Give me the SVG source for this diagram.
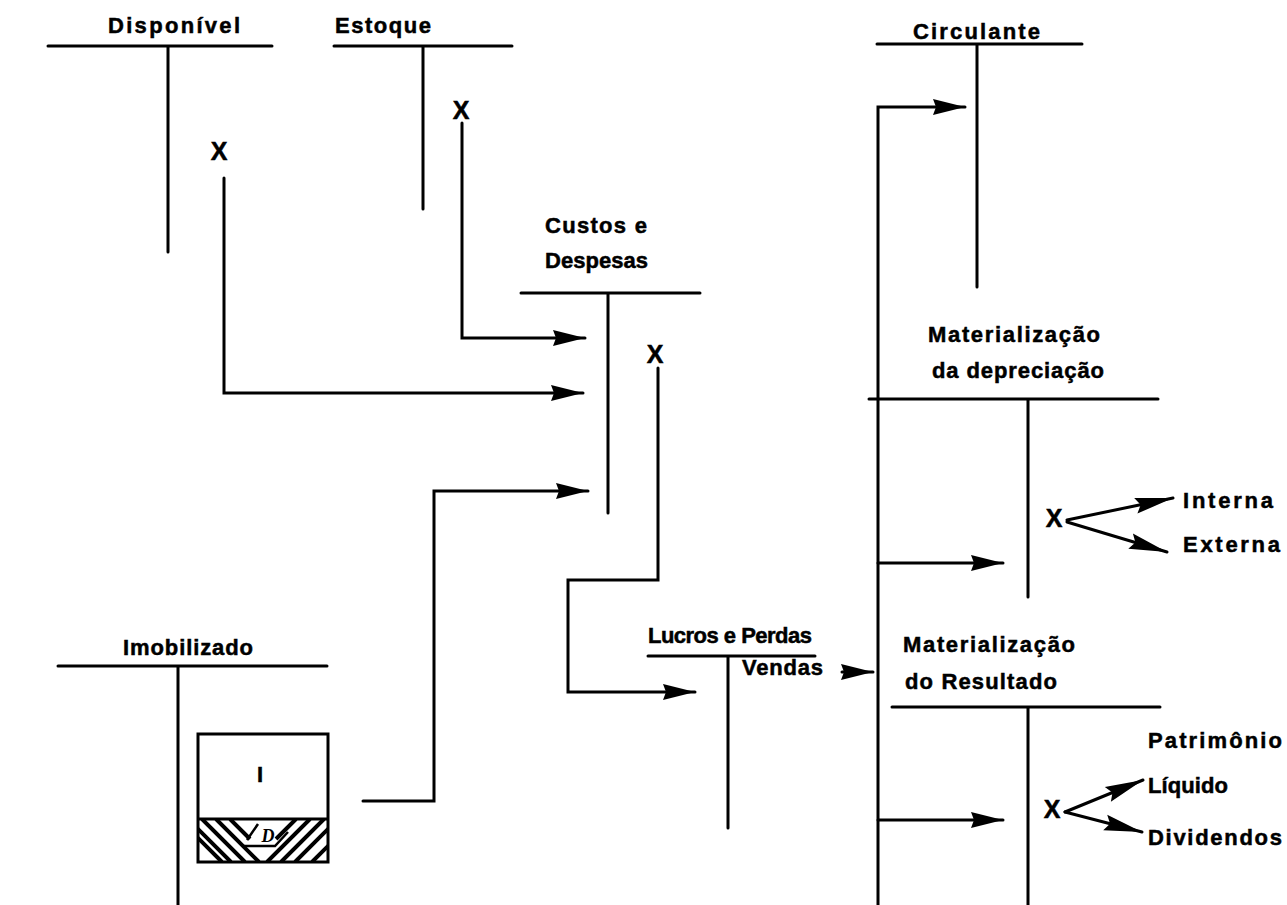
<svg xmlns="http://www.w3.org/2000/svg" width="1287" height="905" viewBox="0 0 1287 905">
  <defs>
    <style>
      .ln { stroke: #000; stroke-width: 3; fill: none; stroke-linecap: round; stroke-linejoin: miter; }
      .lbl { font-family: "Liberation Sans", Arial, sans-serif; font-weight: bold; font-size: 22px; fill: #000; stroke: #000; stroke-width: 0.5; }
      .x { font-family: "Liberation Sans", Arial, sans-serif; font-weight: bold; font-size: 25px; fill: #000; stroke: #000; stroke-width: 0.5; text-anchor: middle; }
      .hatch { stroke: #000; stroke-width: 4; }
    </style>
    <marker id="ah" viewBox="-34 -9 36 18" refX="0" refY="0" markerWidth="36" markerHeight="18" markerUnits="userSpaceOnUse" orient="auto">
      <path d="M0,0 L-32,-8 L-29,0 L-32,8 Z" fill="#000"/>
    </marker>
    <marker id="ah2" viewBox="-40 -10 42 20" refX="0" refY="0" markerWidth="42" markerHeight="20" markerUnits="userSpaceOnUse" orient="auto">
      <path d="M0,0 L-38,-8 L-33,0 L-38,8 Z" fill="#000"/>
    </marker>
    <clipPath id="hclip">
      <rect x="198" y="819" width="130" height="43"/>
    </clipPath>
  </defs>
  <rect width="1287" height="905" fill="#fff"/>

  <g id="disponivel">
    <text class="lbl" x="108" y="33" textLength="132">Disponível</text>
    <path class="ln" d="M48,46 H272 M168,46 V252"/>
    <text class="x" x="219" y="160">X</text>
  </g>

  <g id="estoque">
    <text class="lbl" x="335" y="33" textLength="96">Estoque</text>
    <path class="ln" d="M334,46 H512 M423,46 V209"/>
    <text class="x" x="461" y="119">X</text>
  </g>

  <g id="custos">
    <text class="lbl" x="545" y="233" textLength="102">Custos e</text>
    <text class="lbl" x="545" y="268" textLength="103">Despesas</text>
    <path class="ln" d="M521,293 H700 M608,293 V513"/>
    <text class="x" x="655" y="363">X</text>
  </g>

  <g id="circulante">
    <text class="lbl" x="913" y="39" textLength="127">Circulante</text>
    <path class="ln" d="M877,44 H1082 M977,44 V287"/>
  </g>

  <g id="mat-depreciacao">
    <text class="lbl" x="928" y="342" textLength="172">Materialização</text>
    <text class="lbl" x="932" y="378" textLength="172">da depreciação</text>
    <path class="ln" d="M869,399 H1158 M1028,399 V597"/>
    <text class="x" x="1054" y="527">X</text>
    <text class="lbl" x="1183" y="508" textLength="90">Interna</text>
    <text class="lbl" x="1183" y="552" textLength="97">Externa</text>
  </g>

  <g id="mat-resultado">
    <text class="lbl" x="903" y="652" textLength="172">Materialização</text>
    <text class="lbl" x="905" y="689" textLength="152">do Resultado</text>
    <path class="ln" d="M892,707 H1160 M1028,707 V905"/>
    <text class="x" x="1052" y="818">X</text>
    <text class="lbl" x="1148" y="748" textLength="134">Patrimônio</text>
    <text class="lbl" x="1148" y="793" textLength="80">Líquido</text>
    <text class="lbl" x="1148" y="845" textLength="134">Dividendos</text>
  </g>

  <g id="lucros-perdas">
    <text class="lbl" x="648" y="643" textLength="164">Lucros e Perdas</text>
    <path class="ln" d="M648,656 H815 M728,656 V828"/>
    <text class="lbl" x="742" y="675" textLength="81">Vendas</text>
  </g>

  <g id="imobilizado">
    <text class="lbl" x="123" y="655" textLength="130">Imobilizado</text>
    <path class="ln" d="M58,666 H327 M178,666 V905"/>
    <rect x="198" y="734" width="130" height="128" fill="#fff" stroke="#000" stroke-width="3"/>
    <line x1="198" y1="819" x2="328" y2="819" stroke="#000" stroke-width="3"/>
    <text class="lbl" x="260" y="782" text-anchor="middle">I</text>
    <g clip-path="url(#hclip)">
      <path class="hatch" d="M188,819 L231,862 M202,819 L245,862 M216,819 L259,862 M230,819 L250,839 M196,836 L222,862"/>
      <path class="hatch" d="M338,819 L295,862 M324,819 L281,862 M310,819 L267,862 M296,819 L276,839 M340,834 L312,862"/>
      <path d="M247,840 L258,824 M244,846 L275,846 L288,832" stroke="#000" stroke-width="2.5" fill="none"/>
    </g>
    <text x="268" y="842" font-family="Liberation Serif, serif" font-style="italic" font-weight="bold" font-size="18" text-anchor="middle">D</text>
  </g>

  <g id="connectors">
    <path class="ln" d="M224,178 V393 H583" marker-end="url(#ah)"/>
    <path class="ln" d="M462,123 V338 H585" marker-end="url(#ah)"/>
    <path class="ln" d="M363,801 H434 V491 H588" marker-end="url(#ah)"/>
    <path class="ln" d="M658,368 V580 H568 V692 H695" marker-end="url(#ah)"/>
    <path class="ln" d="M842,672 H873" marker-end="url(#ah)" stroke-width="2"/>
    <path class="ln" d="M878,905 V107 H965" marker-end="url(#ah)"/>
    <path class="ln" d="M878,563 H1003" marker-end="url(#ah)"/>
    <path class="ln" d="M878,820 H1003" marker-end="url(#ah)"/>
    <path class="ln" d="M1067,520 L1173,498" stroke-width="3.5" marker-end="url(#ah2)"/>
    <path class="ln" d="M1067,522 L1167,552" stroke-width="3.5" marker-end="url(#ah2)"/>
    <path class="ln" d="M1065,812 L1143,780" stroke-width="3.5" marker-end="url(#ah2)"/>
    <path class="ln" d="M1065,812 L1142,832" stroke-width="3.5" marker-end="url(#ah2)"/>
  </g>
</svg>
